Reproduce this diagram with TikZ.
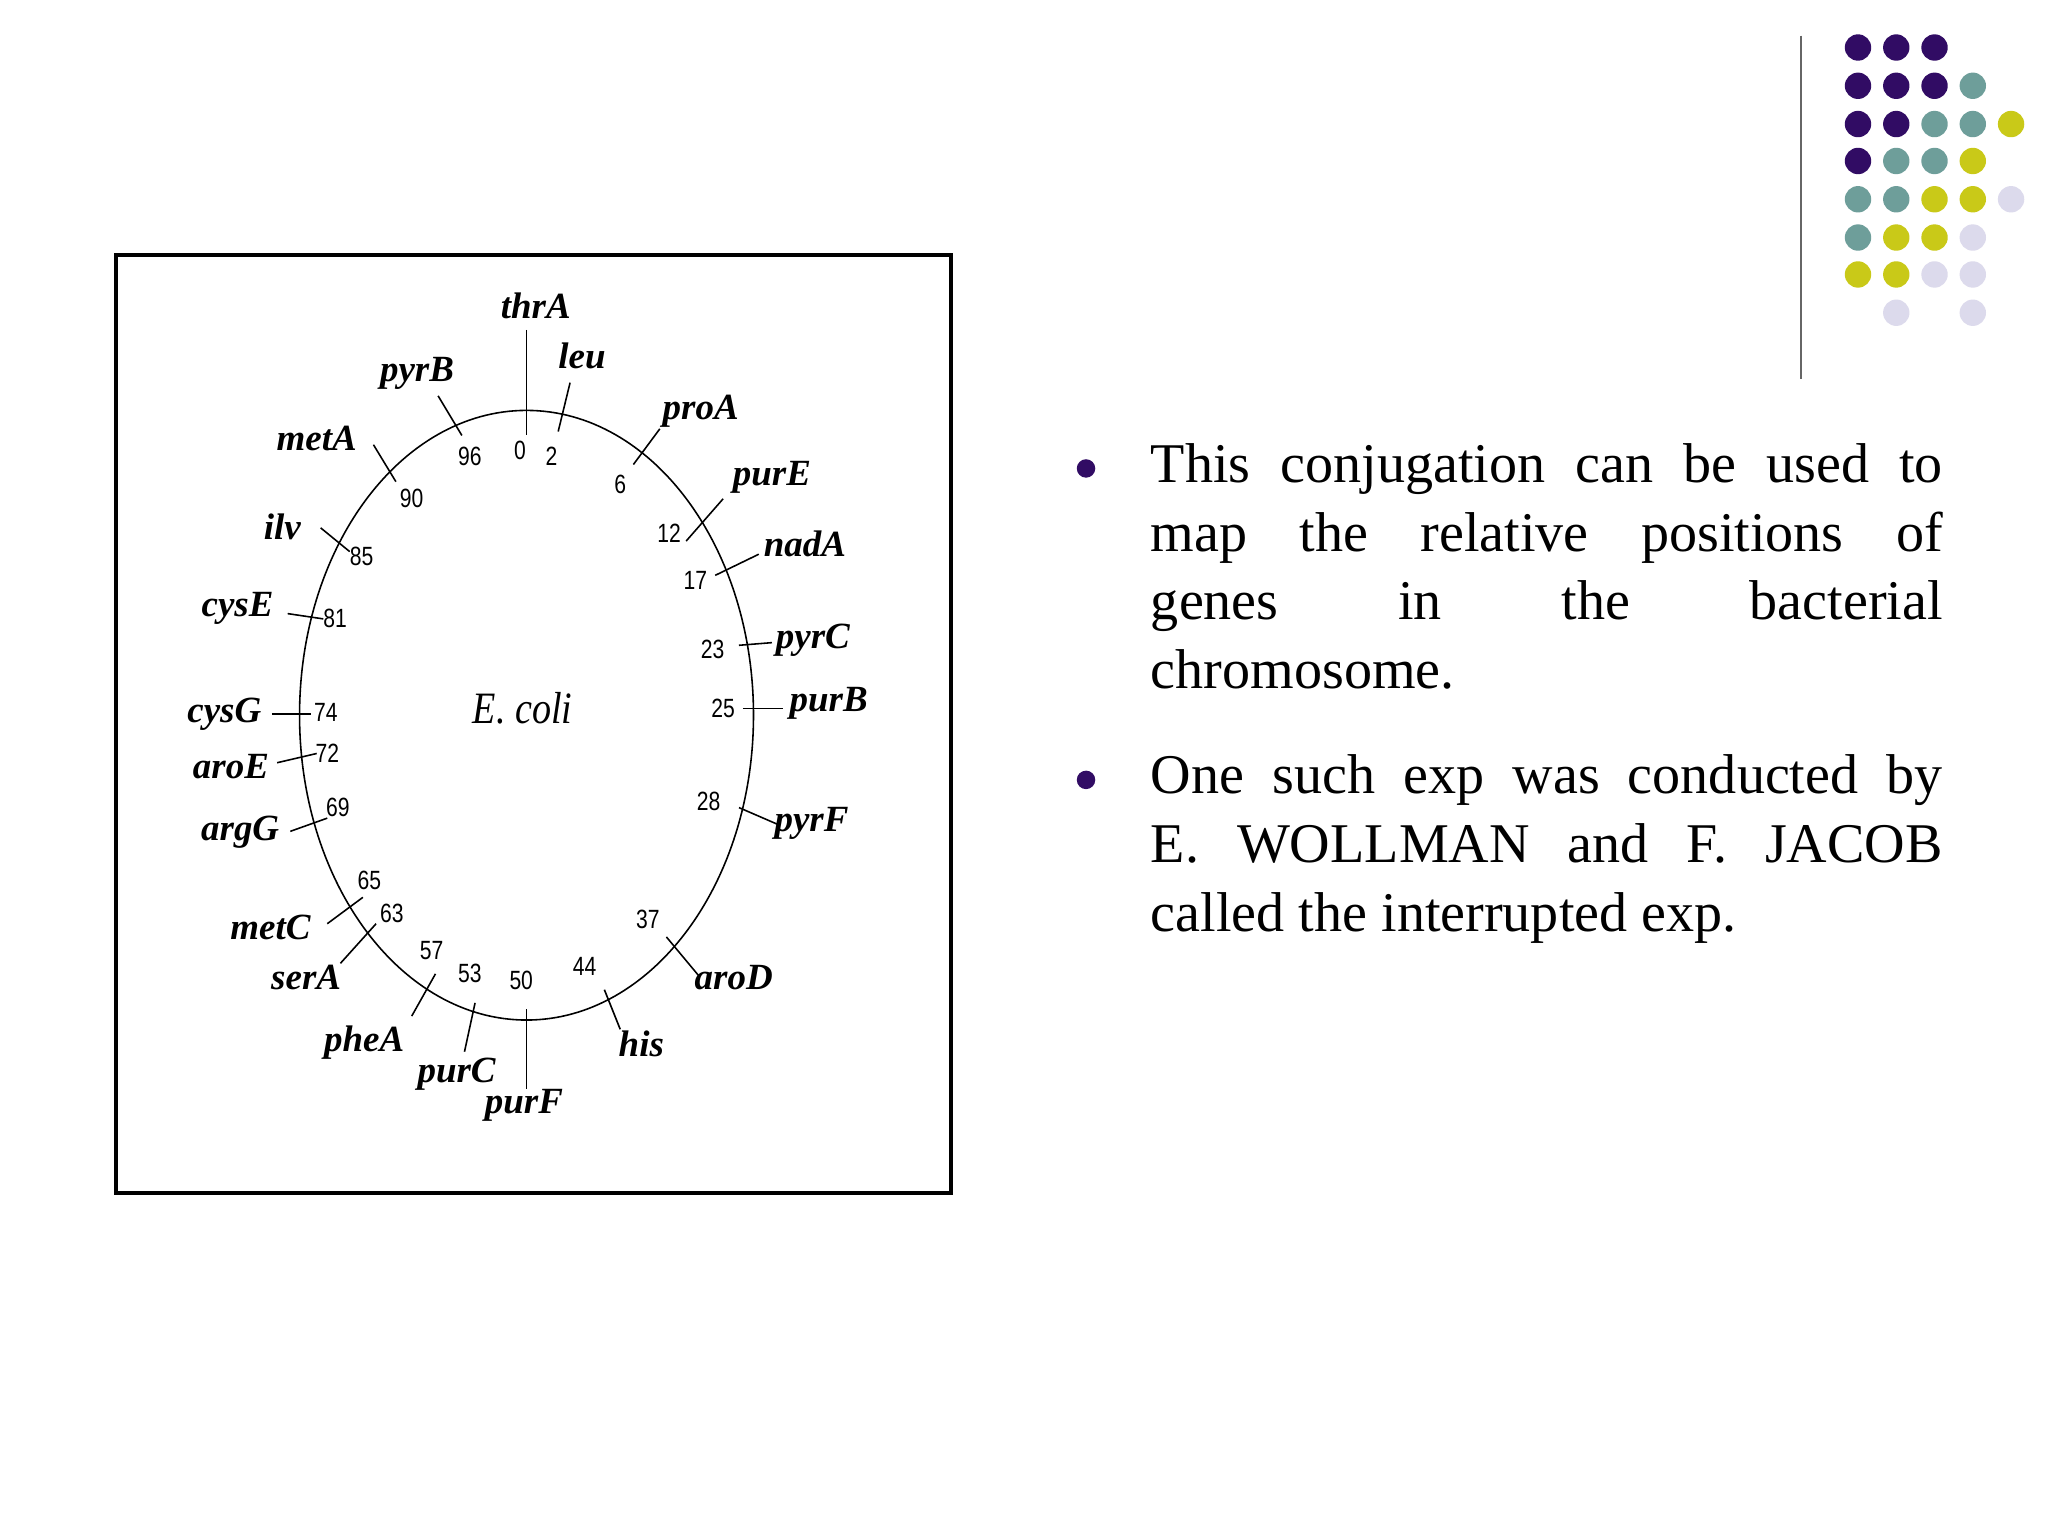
\documentclass[tikz,border=0pt]{standalone}
\usepackage{fontspec}
\usetikzlibrary{shapes.geometric}
\setmainfont{Liberation Serif}
\newfontfamily\numf{Liberation Sans}
\definecolor{dP}{HTML}{310C64}
\definecolor{dT}{HTML}{6E9E9A}
\definecolor{dY}{HTML}{C9C918}
\definecolor{dL}{HTML}{DCDAEC}
\begin{document}
\begin{tikzpicture}[x=1pt,y=-1pt,
  gene/.style={font=\fontsize{28}{28}\selectfont\bfseries\itshape, inner sep=0},
  num/.style={font=\fontsize{20}{20}\selectfont\numf, inner sep=0, xscale=0.8},
  tk/.style={line width=1.2pt},
  dot/.style={circle, minimum size=20pt, inner sep=0}]
\fill[white] (0,0) rectangle (1552,1164);
\useasboundingbox (0,0) rectangle (1552,1164);
% dots
\foreach \c/\x/\y in {P/1408/36,P/1437/36,P/1466/36,
 P/1408/65,P/1437/65,P/1466/65,T/1495/65,
 P/1408/94,P/1437/94,T/1466/94,T/1495/94,Y/1524/94,
 P/1408/122,T/1437/122,T/1466/122,Y/1495/122,
 T/1408/151,T/1437/151,Y/1466/151,Y/1495/151,L/1524/151,
 T/1408/180,Y/1437/180,Y/1466/180,L/1495/180,
 Y/1408/208,Y/1437/208,L/1466/208,L/1495/208,
 L/1437/237,L/1495/237}
 \node[dot, fill=d\c] (d\x\y) at (\x,\y) {};
\coordinate (vt) at (1365,27); \coordinate (vb) at (1365,287);
\draw[line width=1.2pt, gray!80!black] (vt) -- (vb);
% box
\node[draw, line width=3pt, minimum width=633pt, minimum height=711pt, inner sep=0] (box) at (404.5,548.5) {};
\node[draw, line width=1.2pt, ellipse, minimum width=344pt, minimum height=462pt, inner sep=0] (chr) at (399,542) {};
\node[font=\fontsize{34}{34}\selectfont\itshape, xscale=0.85] (ec) at (396,537) {E. coli};
% genes: name label pos, number pos, line ends
\foreach \n/\g/\gx/\gy/\nx/\ny/\ax/\ay/\bx/\by in {
 0/thrA/406/232/394/341/399/250/399/330,
 2/leu/441/270/418/346/432/290/423/327,
 96/pyrB/316/283/356/346/332/300/350/330,
 6/proA/531/312/470/367/500/325/480/352,
 90/metA/240/332/312/378/283/337/300/365,
 12/purE/585/362/507/404/548/378/520/410,
 85/ilv/214/399/274/422/243/400/265/418,
 17/nadA/610/412/527/440/575/420/542/436,
 81/cysE/180/461/254/469/218/465/245/469,
 23/pyrC/616/485/540/492/560/489/585/487,
 25/purB/628/533/548/537/563/537/593/537,
 74/cysG/170/541/247/540/206/541/236/541,
 72/aroE/175/581/248/571/210/578/240/571,
 69/argG/182/631/256/612/220/630/248/620,
 28/pyrF/615/624/537/607/560/612/590/625,
 65/metC/205/703/280/667/248/700/275/680,
 63/serA/232/741/297/692/258/730/285/700,
 57/pheA/276/790/327/720/312/770/330/738,
 53/purC/346/814/356/738/352/797/360/760,
 50/purF/397/838/395/743/399/765/399/825,
 44/his/486/791/443/732/458/750/470/780,
 37/aroD/556/741/491/697/505/710/530/740}
{
 \node[gene] (g\n) at (\gx,\gy) {\g};
 \node[num] (n\n) at (\nx,\ny) {\n};
 \coordinate (a\n) at (\ax,\ay); \coordinate (b\n) at (\bx,\by);
 \draw[tk] (a\n) -- (b\n);
}
% bullets
\node[circle, fill=dP, minimum size=14pt, inner sep=0] (b1) at (823,355) {};
\node[circle, fill=dP, minimum size=14pt, inner sep=0] (b2) at (823,591) {};
\node[anchor=north west, text width=600pt, align=justify, inner sep=0,
  font=\fontsize{42.5}{52}\selectfont] (t1) at (872,336)
  {This conjugation can be used to\linebreak map the relative positions of\linebreak genes in the bacterial\linebreak chromosome.};
\node[anchor=north west, text width=600pt, align=justify, inner sep=0,
  font=\fontsize{42.5}{52}\selectfont] (t2) at (872,572)
  {One such exp was conducted by E.~WOLLMAN and F.~JACOB called the interrupted exp.};
\end{tikzpicture}
\end{document}
